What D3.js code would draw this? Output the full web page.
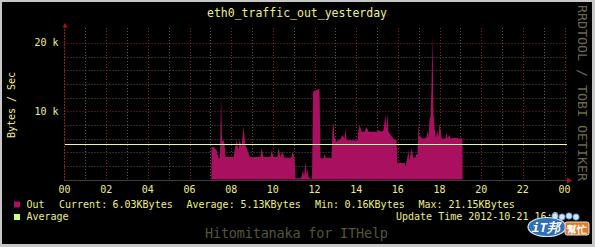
<!DOCTYPE html>
<html>
<head>
<meta charset="utf-8">
<script src="https://cdn.jsdelivr.net/npm/d3@7"></script>
<style>
  html, body { margin: 0; padding: 0; background: #c8c8c8; }
  svg { display: block; }
  text { font-family: "DejaVu Sans Mono", monospace; }
</style>
</head>
<body>
<script>
// hours of the day (yesterday) and outbound traffic in KBytes/s
var outHours = [
    7.05, 7.06, 7.15, 7.20, 7.30, 7.39, 7.46, 7.51, 7.56, 7.63, 7.68, 7.73, 8.11, 8.16, 8.26,
    8.35, 8.40, 8.50, 8.59, 8.69, 8.78, 8.88, 8.93, 9.41, 9.46, 9.55, 9.89, 9.94, 10.03,
    10.22, 10.27, 10.37, 10.46, 10.56, 10.90, 10.94, 11.04, 11.09, 11.33, 11.38, 11.45,
    11.50, 11.57, 11.62, 11.66, 11.71, 11.78, 11.88, 11.93, 12.00, 12.19, 12.24, 12.29,
    12.43, 12.48, 12.53, 12.82, 12.86, 12.91, 12.96, 13.06, 13.15, 13.25, 13.34, 13.44,
    13.49, 13.54, 14.06, 14.11, 14.16, 14.26, 14.40, 14.50, 14.59, 15.02, 15.07, 15.22,
    15.31, 15.41, 15.46, 15.50, 15.55, 15.65, 15.74, 15.84, 15.94, 15.98, 16.32, 16.37,
    16.46, 16.51, 16.56, 16.66, 16.75, 16.85, 16.90, 16.94, 16.99, 17.04, 17.09, 17.18,
    17.28, 17.38, 17.42, 17.47, 17.52, 17.57, 17.62, 17.66, 17.71, 17.76, 17.81, 17.86,
    17.90, 17.95, 18.00, 18.05, 18.10, 18.29, 18.34, 18.38, 18.48, 18.53, 18.77, 18.91,
    19.10, 19.11];
var outValues = [
    0, 4.7, 4.8, 4.6, 4.3, 3.1, 3.1, 12.4, 5.6, 5.8, 5.3, 3.3, 3.3, 4.1, 5.8,
    4.3, 5.8, 4.8, 7.7, 5.0, 4.3, 3.4, 3.3, 3.3, 4.6, 3.3, 3.3, 4.3, 3.3,
    3.3, 4.6, 3.3, 4.1, 3.2, 3.2, 4.1, 3.2, 0.2, 0.2, 0.4, 1.4,
    0.4, 2.6, 0.65, 1.6, 0.4, 0.16, 0.16, 12.8, 13.0, 13.2, 13.3, 3.1,
    3.1, 3.8, 3.2, 3.2, 7.2, 8.4, 6.2, 5.5, 5.8, 5.9, 6.5, 6.0,
    7.5, 5.8, 5.7, 7.2, 8.0, 7.0, 7.0, 7.7, 7.0, 7.0, 7.2, 7.0,
    7.2, 9.4, 7.5, 9.7, 7.0, 6.5, 6.2, 5.8, 5.8, 2.4, 2.4, 1.9,
    3.3, 4.3, 2.8, 4.6, 3.1, 3.3, 3.8, 3.6, 8.0, 6.2, 6.3, 6.0,
    6.0, 6.2, 7.2, 6.2, 8.7, 9.2, 14.0, 21.15, 9.7, 7.7, 6.2, 6.5,
    7.2, 6.2, 8.2, 7.2, 6.0, 6.0, 7.0, 6.0, 6.5, 6.0, 6.1, 6.0,
    6.03, 0];

var xTickHours = [0, 2, 4, 6, 8, 10, 12, 14, 16, 18, 20, 22, 24];
var xTickLabels = ["00", "02", "04", "06", "08", "10", "12", "14", "16", "18", "20", "22", "00"];
var yTickValues = [10, 20];
var yTickLabels = ["10 k", "20 k"];

var statNames = ["Current:", "Average:", "Min:", "Max:"];
var statValues = ["6.03KBytes", "5.13KBytes", "0.16KBytes", "21.15KBytes"];
var averageValue = 5.13;

var W = 595, H = 247;
var yellow = "#eeee88";
var outColor = "#aa1060";

var svg = d3.select("body").append("svg")
    .attr("width", W)
    .attr("height", H);

// frame
svg.append("rect").attr("width", W).attr("height", H).attr("fill", "#c8c8c8");
svg.append("rect")
    .attr("x", 2).attr("y", 2)
    .attr("width", 590).attr("height", 242)
    .attr("fill", "#000");

var x = d3.scaleLinear().domain([0, 24]).range([64.5, 564.5]);
var y = d3.scaleLinear().domain([0, 22.2]).range([179.5, 27.9]);

var grid = svg.append("g").attr("class", "grid");

// horizontal grid: minor every 2k, major every 10k
var hLines = d3.range(2, 22, 2);
grid.selectAll("line.h")
    .data(hLines)
    .enter().append("line")
        .attr("class", "h")
        .attr("x1", x(0)).attr("x2", 567)
        .attr("y1", d => Math.round(y(d)) + 0.5)
        .attr("y2", d => Math.round(y(d)) + 0.5)
        .attr("stroke", d => d % 10 === 0 ? "#8a2424" : "#555555")
        .attr("stroke-dasharray", "1,2");

// vertical grid: minor every hour, major every 2 hours
var vLines = d3.range(1, 25, 1);
grid.selectAll("line.v")
    .data(vLines)
    .enter().append("line")
        .attr("class", "v")
        .attr("x1", d => Math.round(x(d)) + 0.5)
        .attr("x2", d => Math.round(x(d)) + 0.5)
        .attr("y1", 28).attr("y2", 180)
        .attr("stroke", d => d % 2 === 0 ? "#8a2424" : "#555555")
        .attr("stroke-dasharray", "1,2");

// data area
var pts = outHours.map((h, i) => [h, outValues[i]]);
var area = d3.area()
    .x(d => x(d[0]))
    .y0(y(0))
    .y1(d => y(d[1]))
    .curve(d3.curveLinear);

svg.append("path")
    .datum(pts)
    .attr("d", area)
    .attr("fill", outColor);

// average line
svg.append("line")
    .attr("x1", x(0)).attr("x2", 567)
    .attr("y1", Math.round(y(averageValue)) + 0.5)
    .attr("y2", Math.round(y(averageValue)) + 0.5)
    .attr("stroke", "#e4ff99")
    .attr("stroke-width", 1);

// axes
svg.append("line")
    .attr("x1", x(0)).attr("x2", 568)
    .attr("y1", 180.5).attr("y2", 180.5)
    .attr("stroke", "#3c3c3c");
svg.append("line")
    .attr("x1", 64.5).attr("x2", 64.5)
    .attr("y1", 26).attr("y2", 181)
    .attr("stroke", "#8a2424")
    .attr("stroke-dasharray", "2,1");
svg.append("path")
    .attr("d", "M62.5,27.5L65,23L67.5,27.5Z")
    .attr("fill", "#a01818");
svg.append("path")
    .attr("d", "M567,177.5L572,180.5L567,183.5Z")
    .attr("fill", "#a01818");

// tick labels
svg.selectAll("text.xt")
    .data(xTickHours)
    .enter().append("text")
        .attr("class", "xt")
        .attr("x", d => x(d))
        .attr("y", 193)
        .attr("text-anchor", "middle")
        .attr("font-size", 10)
        .attr("fill", yellow)
        .text((d, i) => xTickLabels[i]);

svg.selectAll("text.yt")
    .data(yTickValues)
    .enter().append("text")
        .attr("class", "yt")
        .attr("x", 58.5)
        .attr("y", d => y(d) + 3.5)
        .attr("text-anchor", "end")
        .attr("font-size", 10)
        .attr("fill", yellow)
        .text((d, i) => yTickLabels[i]);

// title and axis label
svg.append("text")
    .attr("x", 297).attr("y", 17)
    .attr("text-anchor", "middle")
    .attr("font-size", 11.5)
    .attr("fill", yellow)
    .text("eth0_traffic_out_yesterday");

svg.append("text")
    .attr("transform", "translate(14.5,105) rotate(-90)")
    .attr("text-anchor", "middle")
    .attr("font-size", 10)
    .attr("fill", yellow)
    .text("Bytes / Sec");

// rrdtool watermark on the right
svg.append("text")
    .attr("transform", "translate(578,5) rotate(90)")
    .attr("font-size", 12)
    .attr("textLength", 176)
    .attr("lengthAdjust", "spacingAndGlyphs")
    .attr("fill", "#6a6a48")
    .text("RRDTOOL / TOBI OETIKER");

// legend
svg.append("rect")
    .attr("x", 14).attr("y", 201.5).attr("width", 6).attr("height", 6)
    .attr("fill", outColor);
svg.append("rect")
    .attr("x", 14).attr("y", 214).attr("width", 6).attr("height", 6)
    .attr("fill", "#ccff77");

var legend = svg.append("g")
    .attr("font-size", 10)
    .attr("fill", yellow);

legend.append("text").attr("x", 26.5).attr("y", 207.5).text("Out");
var nameX = [59, 186.5, 315, 418.5];
var valX = [112.5, 240.5, 344.5, 448.5];
statNames.forEach(function (s, i) {
    legend.append("text").attr("x", nameX[i]).attr("y", 207.5).text(s);
    legend.append("text").attr("x", valX[i]).attr("y", 207.5).text(statValues[i]);
});
legend.append("text").attr("x", 26.5).attr("y", 220).text("Average");
legend.append("text").attr("x", 396).attr("y", 220).text("Update Time 2012-10-21 16:2");

svg.append("text")
    .attr("x", 296.5).attr("y", 238)
    .attr("text-anchor", "middle")
    .attr("font-size", 13.5)
    .attr("textLength", 183)
    .attr("fill", "#55553a")
    .text("Hitomitanaka for ITHelp");

// site logo overlay (bottom right)
var logo = svg.append("g");
[555, 562, 569, 576].forEach(function (cx, i) {
    logo.append("circle")
        .attr("cx", cx).attr("cy", 216 + (i % 2))
        .attr("r", 3.2)
        .attr("fill", "#d4e4f4").attr("stroke", "#3a78c0").attr("stroke-width", 0.8);
});
logo.append("ellipse")
    .attr("cx", 547).attr("cy", 227).attr("rx", 19).attr("ry", 9.5)
    .attr("fill", "#2f6fb3").attr("stroke", "#d8e6f4").attr("stroke-width", 1.2);
logo.append("text")
    .attr("x", 546).attr("y", 232)
    .attr("text-anchor", "middle")
    .attr("font-family", "Noto Sans CJK TC")
    .attr("font-weight", "bold")
    .attr("font-style", "italic")
    .attr("font-size", 13)
    .attr("fill", "#fff")
    .text("iT邦");
logo.append("rect")
    .attr("x", 565).attr("y", 222).attr("width", 24).attr("height", 13).attr("rx", 2)
    .attr("fill", "#e07a28").attr("stroke", "#f4e0c8").attr("stroke-width", 1);
logo.append("text")
    .attr("x", 577).attr("y", 232.5)
    .attr("text-anchor", "middle")
    .attr("font-family", "Noto Sans CJK TC")
    .attr("font-weight", "bold")
    .attr("font-size", 10)
    .attr("fill", "#fff")
    .text("幫忙");
</script>
</body>
</html>
